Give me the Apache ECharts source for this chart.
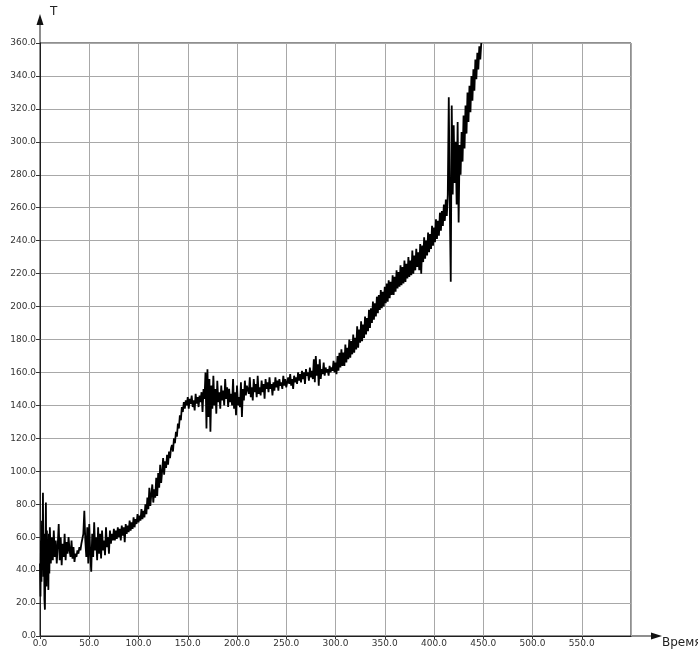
<!DOCTYPE html>
<html>
<head>
<meta charset="utf-8">
<script src="https://cdn.jsdelivr.net/npm/echarts@6/dist/echarts.min.js"></script>
<style>
html,body{margin:0;padding:0;background:#fff;}
#chart{width:698px;height:653px;}
</style>
</head>
<body>
<div id="chart"></div>
<script>
// ---- data ----
const timeValues = [
  0,0.5,1,1.5,2,2.5,3,3.5,4,4.5,
  5,5.5,6,6.5,7,7.5,8,8.5,9,9.5,
  10,11,12,13,14,15,16,17,18,19,
  20,21,22,23,24,25,26,27,28,29,
  30,31,32,33,34,35,36,37,38,39,
  40,41,42,43,44,45,46,47,48,49,
  50,51,52,53,54,55,56,57,58,59,
  60,61,62,63,64,65,66,67,68,69,
  70,71,72,73,74,75,76,77,78,79,
  80,81,82,83,84,85,86,87,88,89,
  90,91,92,93,94,95,96,97,98,99,
  100,101,102,103,104,105,106,107,108,109,
  110,111,112,113,114,115,116,117,118,119,
  120,121,122,123,124,125,126,127,128,129,
  130,131,132,133,134,135,136,137,138,139,
  140,141,142,143,144,145,
  146,147,148,149,150,151,152,153,154,155,
  156,157,158,159,160,161,162,163,164,165,
  166,167,168,169,170,171,172,173,174,175,
  176,177,178,179,180,181,182,183,184,185,
  186,187,188,189,190,191,192,193,194,195,
  196,197,198,199,200,201,202,203,204,205,
  206,207,208,209,210,212,213,214,215,216,
  217,218,219,220,221,222,223,224,225,226,
  227,228,229,230,231,232,233,234,235,236,
  237,238,239,240,241,242,243,244,245,246,
  247,248,249,250,252,253,254,255,256,257,
  258,259,260,261,262,263,264,265,266,267,
  268,269,270,271,272,273,274,275,276,277,
  278,279,280,281,282,283,284,285,286,287,
  288,289,290,291,292,293,294,295,296,297,
  298,299,300,301,302,303,304,305,306,307,
  308,309,310,311,312,313,314,315,316,317,
  318,319,320,321,322,323,324,325,326,327,
  328,329,330,331,332,333,334,335,336,337,
  338,339,340,341,342,343,344,345,346,347,
  348,349,350,351,352,353,354,355,356,357,
  358,359,360,361,362,363,364,365,366,367,
  368,369,370,371,372,373,374,375,376,377,
  378,379,380,381,382,383,384,385,386,387,
  388,389,390,391,392,393,394,395,396,397,
  398,399,400,401,402,403,404,405,406,407,
  408,409,410,411,412,413,414,415,416,417,
  418,419,420,421,422,423,424,425,426,427,
  428,429,430,431,432,433,434,435,436,437,
  438,439,440,441,442,443,444,445,446,447,
  448
];
const tempValues = [
  44,24,58,33,70,40,87,36,62,22,
  16,52,81,30,64,40,58,28,62,38,
  66,44,60,46,64,48,58,44,55,68,
  46,60,43,56,48,62,46,57,50,60,
  52,48,58,47,54,45,50,48,52,50,
  54,52,56,55,62,76,58,48,66,44,
  68,50,39,62,48,69,52,60,46,66,
  50,62,47,64,52,58,49,66,54,60,
  50,64,56,62,58,65,58,64,59,66,
  60,65,58,67,61,66,57,68,62,67,
  63,70,64,69,65,72,66,71,68,74,
  69,73,70,77,71,76,72,80,74,84,
  77,90,79,86,92,81,89,84,96,85,
  99,90,104,93,100,108,98,106,102,110,
  104,112,108,114,116,112,120,117,124,121,
  129,126,134,131,139,136,
  142,138,143,140,145,138,144,141,146,139,
  143,137,147,141,145,139,146,142,148,136,
  150,144,160,126,162,133,156,124,152,138,
  158,140,150,135,155,142,148,138,152,143,
  149,140,156,144,151,139,150,142,147,140,
  156,138,148,134,152,140,145,139,154,133,
  150,143,155,146,152,147,157,145,151,143,
  156,148,153,145,158,147,151,146,155,148,
  153,144,156,150,154,148,157,150,153,146,
  154,149,157,151,155,149,156,152,154,150,
  158,152,156,151,157,153,159,152,156,150,
  158,154,157,153,160,155,159,154,161,156,
  160,153,162,158,160,155,163,157,161,156,
  168,154,170,158,165,152,168,156,162,159,
  166,158,163,160,162,158,164,160,163,161,
  167,160,166,159,170,161,172,163,174,164,
  172,164,177,166,175,168,180,169,179,171,
  183,172,181,174,188,175,186,178,191,179,
  189,181,194,183,193,185,198,187,199,190,
  203,192,202,194,206,196,207,198,210,199,
  209,200,212,202,214,203,216,205,215,207,
  219,207,218,209,222,211,221,212,225,213,
  224,214,228,215,226,217,230,218,228,219,
  234,220,231,222,235,224,233,222,238,220,
  237,227,242,229,240,231,245,233,244,235,
  249,237,248,239,253,241,252,243,257,246,
  258,249,262,252,265,255,268,327,262,215,
  322,268,310,275,300,262,312,251,298,280,
  306,288,316,296,322,305,330,312,334,318,
  340,325,344,331,350,338,354,344,358,350,
  360
];
const xAxisName = 'Время';
const yAxisName = 'T';
const xRange = [0, 600];
const xStep = 50;
const yRange = [0, 360];
const yStep = 20;

// ---- layout ----
const G = {left: 40, top: 43, right: 67, bottom: 17};
const W = 698, H = 653;
const axisX = G.left;            // y-axis pixel x
const axisY = H - G.bottom;      // x-axis pixel y
const plotRight = W - G.right;

const seriesData = timeValues.map((t, i) => [t, tempValues[i]]);

const chart = echarts.init(document.getElementById('chart'), null, {renderer: 'canvas'});
const labelFont = {fontFamily: 'DejaVu Sans', fontSize: 9, color: '#333'};
chart.setOption({
  animation: false,
  backgroundColor: '#fff',
  grid: {left: G.left, top: G.top, right: G.right, bottom: G.bottom,
         show: true, borderColor: '#1e1e1e', borderWidth: 1,
         containLabel: false, outerBoundsMode: 'none'},
  xAxis: {
    type: 'value', min: xRange[0], max: xRange[1], interval: xStep,
    name: xAxisName, nameLocation: 'end', nameGap: 31,
    nameTextStyle: {fontFamily: 'DejaVu Sans', fontSize: 12, color: '#222',
                    align: 'left', verticalAlign: 'top', padding: [1, 0, 0, 0]},
    axisLine: {show: true, lineStyle: {color: '#1e1e1e', width: 1}},
    axisTick: {show: true, length: 3, lineStyle: {color: '#333'}},
    axisLabel: Object.assign({margin: 3, showMaxLabel: false,
                formatter: v => v.toFixed(1)}, labelFont),
    splitLine: {show: true, lineStyle: {color: '#a8a8a8', width: 1}}
  },
  yAxis: {
    type: 'value', min: yRange[0], max: yRange[1], interval: yStep,
    name: yAxisName, nameLocation: 'end', nameGap: 31,
    nameTextStyle: {fontFamily: 'DejaVu Sans', fontSize: 12, color: '#222',
                    align: 'left', verticalAlign: 'middle', padding: [0, 0, 0, 10]},
    axisLine: {show: true, lineStyle: {color: '#1e1e1e', width: 1}},
    axisTick: {show: true, length: 4, lineStyle: {color: '#333'}},
    axisLabel: Object.assign({margin: 4, formatter: v => v.toFixed(1)}, labelFont),
    splitLine: {show: true, lineStyle: {color: '#a8a8a8', width: 1}}
  },
  graphic: [
    {type: 'line', shape: {x1: axisX, y1: G.top, x2: axisX, y2: 20},
     style: {stroke: '#1e1e1e', lineWidth: 1}, silent: true},
    {type: 'polygon', shape: {points: [[axisX, 14], [axisX - 3.5, 25], [axisX + 3.5, 25]]},
     style: {fill: '#111'}, silent: true},
    {type: 'line', shape: {x1: plotRight, y1: axisY, x2: 655, y2: axisY},
     style: {stroke: '#1e1e1e', lineWidth: 1}, silent: true},
    {type: 'polygon', shape: {points: [[662, axisY], [651, axisY - 3.5], [651, axisY + 3.5]]},
     style: {fill: '#111'}, silent: true}
  ],
  series: [{
    type: 'line',
    data: seriesData,
    showSymbol: false,
    symbol: 'none',
    lineStyle: {color: '#000', width: 1.8},
    clip: true,
    z: 5
  }]
});
</script>
</body>
</html>
